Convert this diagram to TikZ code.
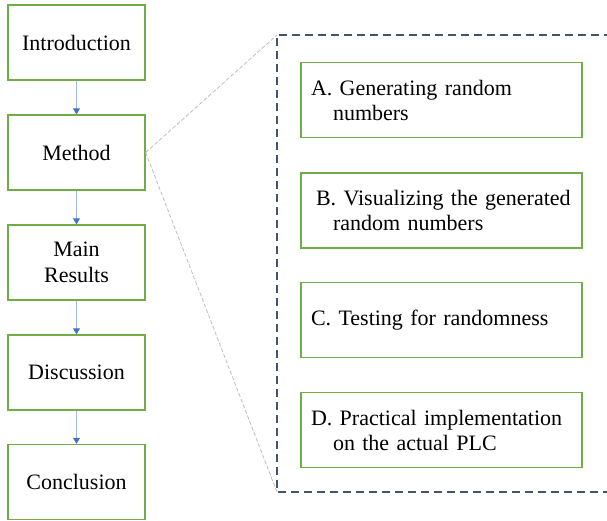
\documentclass[tikz,border=0pt]{standalone}
\usepackage{fontspec}
\setmainfont{Liberation Serif}
\usetikzlibrary{arrows.meta}
\definecolor{boxgreen}{RGB}{112,173,71}
\definecolor{arrowblue}{RGB}{68,114,196}
\definecolor{linelight}{RGB}{160,185,230}
\definecolor{slate}{RGB}{68,84,106}
\definecolor{lightgray}{RGB}{190,190,190}
\tikzset{
  mainbox/.style={draw=boxgreen, line width=1.3pt, minimum width=137pt, minimum height=75pt, align=center, inner sep=2pt, font=\fontsize{22}{26}\selectfont},
  subbox/.style={draw=boxgreen, line width=1.3pt, minimum width=281pt, minimum height=75pt, text width=261pt, inner xsep=10pt, align=left, font=\fontsize{22}{25}\selectfont},
  flowarrow/.style={draw=linelight, line width=1pt, -{Triangle[length=6pt,width=7pt,color=arrowblue]}},
  zoomline/.style={draw=lightgray, line width=0.8pt, dash pattern=on 4pt off 2pt},
  framebox/.style={draw=slate, line width=1.3pt, dash pattern=on 8pt off 5pt}
}
\begin{document}
\begin{tikzpicture}[x=1pt,y=-1pt]
\useasboundingbox (0,0) rectangle (607,520);
\node[mainbox] (intro) at (76.5,42.5) {Introduction};
\node[mainbox] (method) at (76.5,152.5) {Method};
\node[mainbox] (results) at (76.5,262.5) {Main\\Results};
\node[mainbox] (disc) at (76.5,372.5) {Discussion};
\node[mainbox] (concl) at (76.5,482) {Conclusion};
\draw[flowarrow] (intro) -- (method);
\draw[flowarrow] (method) -- (results);
\draw[flowarrow] (results) -- (disc);
\draw[flowarrow] (disc) -- (concl);

\coordinate (ftop) at (277,35);
\coordinate (fbot) at (277,492);
\coordinate (ftopr) at (612,35);
\coordinate (fbotr) at (612,492);
\draw[framebox] (ftopr) -- (ftop) -- (fbot) -- (fbotr);
\draw[zoomline] (method.east) -- (ftop);
\draw[zoomline] (method.east) -- (fbot);

\node[subbox] (a) at (441.5,100) {A. Generating random\\\hspace*{22pt}numbers};
\node[subbox] (b) at (441.5,210.5) {\hspace*{5pt}B. Visualizing the generated\\\hspace*{22pt}random numbers};
\node[subbox] (c) at (441.5,320) {C. Testing for randomness};
\node[subbox] (d) at (441.5,430) {D. Practical implementation\\\hspace*{22pt}on the actual PLC};
\end{tikzpicture}
\end{document}
